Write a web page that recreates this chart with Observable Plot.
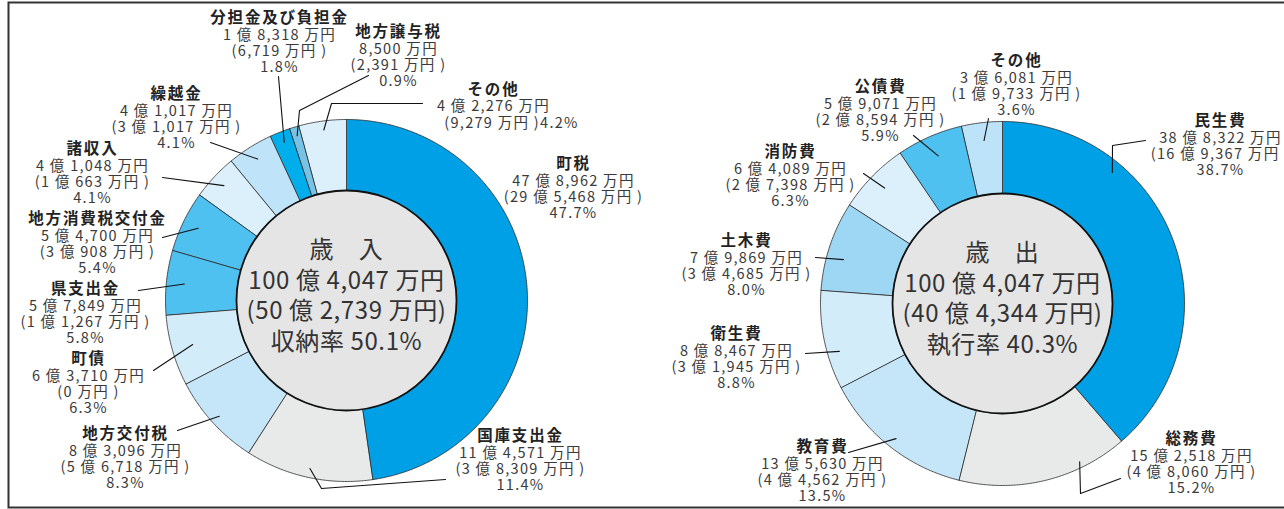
<!DOCTYPE html>
<html><head><meta charset="utf-8">
<script src="https://cdn.jsdelivr.net/npm/d3@7"></script>
<script src="https://cdn.jsdelivr.net/npm/@observablehq/plot@0.6"></script>
<style>
body{margin:0;background:#fff;}
#chart svg{display:block;}
.blk text{letter-spacing:1.3px;}
.ctr text{letter-spacing:0.6px;}
</style>
</head><body><div id="chart"></div>
<script>
// ---- Data (万円) ----
const revCategories = ["町税","国庫支出金","地方交付税","町債","県支出金","地方消費税交付金","諸収入","繰越金","分担金及び負担金","地方譲与税","その他"];
const revValues   = [478962,114571,83096,63710,57849,54700,41048,41017,18318,8500,42276];
const revReceived = [295468,38309,56718,0,11267,30908,10663,31017,6719,2391,9279];
const revPct      = ["47.7%","11.4%","8.3%","6.3%","5.8%","5.4%","4.1%","4.1%","1.8%","0.9%","4.2%"];
const revTotal = 1004047, revReceivedTotal = 502739, revRate = "50.1%";

const expCategories = ["民生費","総務費","教育費","衛生費","土木費","消防費","公債費","その他"];
const expValues = [388322,152518,135630,88467,79869,64089,59071,36081];
const expSpent  = [169367,48060,44562,31945,34685,27398,28594,19733];
const expPct    = ["38.7%","15.2%","13.5%","8.8%","8.0%","6.3%","5.9%","3.6%"];
const expTotal = 1004047, expSpentTotal = 404344, expRate = "40.3%";

// ---- Styles ----
const revColors = ["#00a0e6","#e8eaea","#c5e6f9","#d3ecfa","#4fc1f0","#4fc1f0","#dcf0fc","#bfe3f8","#00aeeb","#77c2e5","#dcf0fc"];
const expColors = ["#00a0e6","#e8eaea","#c5e6f9","#d3ecfa","#9dd7f4","#dcf0fc","#4fc1f0","#bde3f8"];

// ---- Layout ----
const W = 1284, H = 509;
const revGeo = {cx: 346, cy: 300, rOut: 181, rIn: 110};
const expGeo = {cx: 1002, cy: 303, rOut: 182, rIn: 110};
const revLabels = [
  {x:573, y:165, lead:null},
  {x:520, y:437, lead:{t:.5, r:172, pts:[[321,488],[445,479]]}},
  {x:125, y:435, lead:{t:.5, r:172, pts:[[177,430]]}},
  {x:88,  y:360, lead:{t:.5, r:160, pts:[[153,370]]}},
  {x:85,  y:290, lead:{t:.5, r:163, pts:[[138,290]]}},
  {x:97,  y:220, lead:{t:.5, r:165, pts:[[162,237]]}},
  {x:92,  y:150, lead:{t:.5, r:168, pts:[[162,177]]}},
  {x:176, y:95,  lead:{t:.5, r:167, pts:[[210,142]]}},
  {x:279, y:19,  lead:{t:.5, r:170, pts:[[278,76]]}},
  {x:398, y:33,  lead:{t:.5, r:172, pts:[[299,110],[368,75]]}},
  {x:493, y:90,  lead:{t:.5, r:172, pts:[[331,103],[422,103]]}, merge:true, dx3:18}
];
const expLabels = [
  {x:1220, y:122, lead:{t:.287, r:171, pts:[[1112,145],[1145,140]]}},
  {x:1191, y:440, lead:{t:.27, r:176, pts:[[1080,493],[1120,478]]}},
  {x:822,  y:448, lead:{t:.5, r:172, pts:[[848,452]]}},
  {x:736,  y:335, lead:{t:.35, r:170, pts:[[805,353]]}},
  {x:746,  y:242, lead:{t:.39, r:165, pts:[[815,257]]}},
  {x:790,  y:153, lead:{t:.5, r:165, pts:[[863,173]]}},
  {x:880,  y:88,  lead:{t:.5, r:161, pts:[[913,135]]}},
  {x:1016, y:62,  lead:{t:.5, r:164, pts:[[988,118]]}}
];
const LH = 16.3, VFS = 14.5, NFS = 15.5;
const CLH = 30.5, CFS = 24;

const fmtComma = d3.format(",");
function man(v){ const oku = Math.floor(v/10000), m = v % 10000;
  return oku > 0 ? `${oku} 億 ${fmtComma(m)} 万円` : `${fmtComma(m)} 万円`; }

const marks = [];
const blockRows = [], leadRows = [], centerRows = [];

function donut(cats, values, sub, pcts, colors, geo, labels, key){
  const total = d3.sum(values);
  let acc = 0;
  const ang = v => v / total * 2 * Math.PI;
  values.forEach((v, i) => {
    const a0 = ang(acc); acc += v; const a1 = ang(acc);
    const n = Math.max(2, Math.ceil((a1 - a0) / (Math.PI / 360)));
    const pts = [];
    for (let k = 0; k <= n; k++) { const a = a0 + (a1 - a0) * k / n;
      pts.push({x: geo.cx + geo.rOut * Math.sin(a), y: geo.cy - geo.rOut * Math.cos(a)}); }
    for (let k = n; k >= 0; k--) { const a = a0 + (a1 - a0) * k / n;
      pts.push({x: geo.cx + geo.rIn * Math.sin(a), y: geo.cy - geo.rIn * Math.cos(a)}); }
    marks.push(Plot.line(pts, {x: "x", y: "y", curve: "linear-closed", fill: colors[i], stroke: "#2b2b2b", strokeWidth: 0.8}));
    const L = labels[i];
    const id = key + i;
    if (L.lead) {
      const a = a0 + (a1 - a0) * L.lead.t;
      leadRows.push({id, x: geo.cx + L.lead.r * Math.sin(a), y: geo.cy - L.lead.r * Math.cos(a)});
      L.lead.pts.forEach(([x, y]) => leadRows.push({id, x, y}));
    }
    const lines = L.merge
      ? [cats[i], man(v), `(${man(sub[i])} )${pcts[i]}`]
      : [cats[i], man(v), `(${man(sub[i])} )`, pcts[i]];
    blockRows.push({x: L.x, y: L.y + (lines.length - 1) * LH / 2, text: lines.join("\n"), dx3: L.dx3 || 0});
  });
}
donut(revCategories, revValues, revReceived, revPct, revColors, revGeo, revLabels, "r");
donut(expCategories, expValues, expSpent, expPct, expColors, expGeo, expLabels, "e");

[
  {geo: revGeo, lines: ["歳　入", man(revTotal), `(${man(revReceivedTotal)})`, `収納率 ${revRate}`]},
  {geo: expGeo, lines: ["歳　出", man(expTotal), `(${man(expSpentTotal)})`, `執行率 ${expRate}`]}
].forEach(c => centerRows.push({x: c.geo.cx, y: c.geo.cy - 52 + 1.5 * CLH, text: c.lines.join("\n")}));

const plot = Plot.plot({
  width: W, height: H, margin: 0,
  x: {domain: [0, W], range: [0, W], axis: null},
  y: {domain: [0, H], range: [0, H], axis: null},
  style: {fontFamily: "'Noto Sans CJK JP', 'Noto Sans', sans-serif", background: "#fff"},
  marks: [
    ...marks,
    Plot.dot([revGeo, expGeo], {x: "cx", y: "cy", r: 110, fill: "#e5e5e5", stroke: "#111", strokeWidth: 1.8}),
    Plot.line(leadRows, {x: "x", y: "y", z: "id", stroke: "#111", strokeWidth: 1.1}),
    Plot.text(centerRows, {x: "x", y: "y", text: "text", fontSize: CFS, lineHeight: CLH / CFS, fill: "#333", className: "ctr"}),
    Plot.text(blockRows, {x: "x", y: "y", text: "text", fontSize: VFS, lineHeight: LH / VFS, fill: "#3a3a3a", className: "blk"}),
    Plot.frame({stroke: "#333", strokeWidth: 2, insetLeft: 8, insetTop: 2, insetBottom: 2, insetRight: -10})
  ]
});
// style the first line (category name) of each label block in bold
plot.querySelectorAll("g.blk text").forEach((t, i) => {
  const spans = t.querySelectorAll("tspan");
  if (spans[0]) {
    spans[0].setAttribute("font-weight", "bold");
    spans[0].setAttribute("font-size", NFS);
    spans[0].setAttribute("fill", "#222");
    spans[0].style.letterSpacing = "1.8px";
  }
  const d = blockRows[i] && blockRows[i].dx3;
  if (d && spans[2]) spans[2].setAttribute("x", d);
});
document.getElementById("chart").appendChild(plot);
</script></body></html>
